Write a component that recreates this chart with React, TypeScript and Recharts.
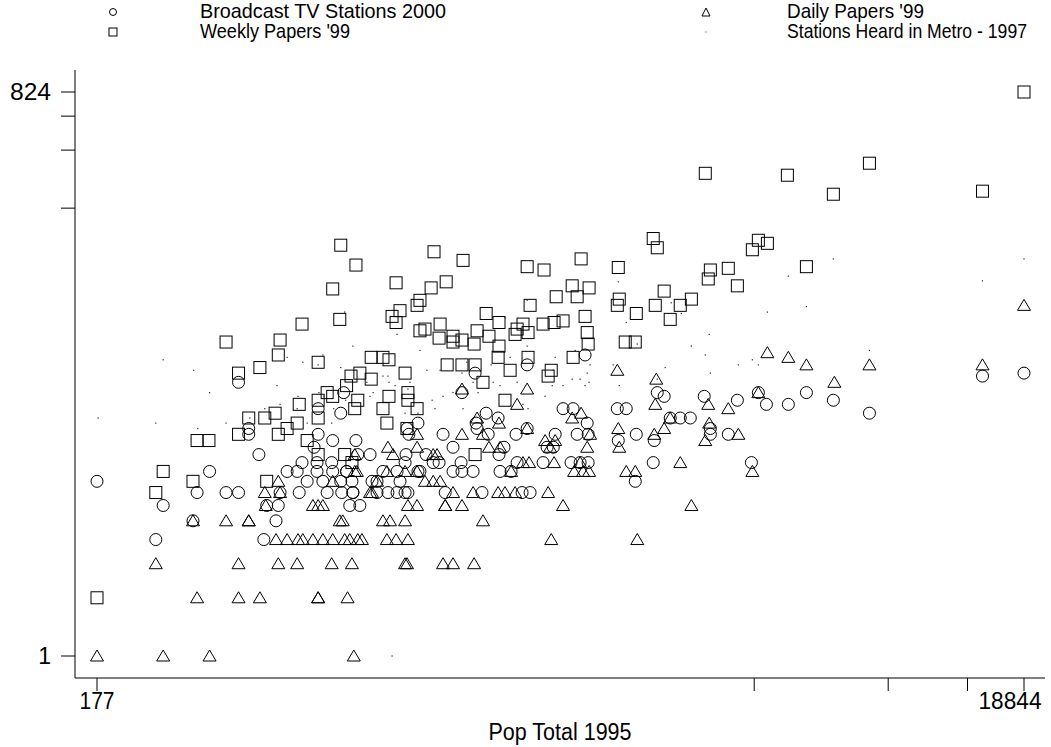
import { ScatterChart, Scatter, XAxis, YAxis } from "recharts";

// [pop total 1995, count]
const tvStations: [number, number][] = [
  [238, 4], [410, 4],
  [287, 5], [436, 5],
  [247, 6], [416, 6], [441, 6], [632, 6], [665, 6],
  [293, 7], [339, 7], [361, 7], [445, 7], [490, 7], [564, 7], [607, 7], [642, 7], [642, 7], [725, 7], [766, 7], [802, 7], [835, 7], [847, 7], [1022, 7], [1230, 7], [1505, 7], [1567, 7],
  [177, 8], [510, 8], [552, 8], [604, 8], [639, 8], [707, 8], [725, 8], [814, 8], [2661, 8],
  [312, 9], [461, 9], [485, 9], [536, 9], [580, 9], [622, 9], [622, 9], [747, 9], [802, 9], [891, 9], [900, 9], [1063, 9], [1112, 9], [1176, 9], [1347, 9], [1424, 9],
  [497, 10], [536, 10], [577, 10], [835, 10], [962, 10], [991, 10], [1107, 10], [1468, 10], [1673, 10], [1926, 10], [2016, 10], [2099, 10], [2913, 10], [4776, 10],
  [400, 11], [658, 11], [700, 11], [839, 11], [928, 11], [1340, 11],
  [528, 12], [1063, 12], [1374, 12], [1707, 12], [1761, 12],
  [580, 13], [652, 13], [2443, 13], [2928, 13],
  [380, 14], [539, 14], [851, 14], [1011, 14], [1269, 14], [1460, 14], [1778, 14], [1986, 14], [2099, 14], [2675, 14], [3884, 14], [4251, 14],
  [380, 15], [843, 15], [1200, 15], [1544, 15], [3884, 15],
  [891, 16], [1194, 16], [2089, 16],
  [1334, 17], [3173, 17], [3338, 17], [3511, 17],
  [604, 18], [1256, 18], [8653, 18],
  [539, 19], [1850, 19], [1946, 19], [2431, 19], [2543, 19],
  [5151, 20], [5752, 20],
  [4450, 21], [7216, 21],
  [3078, 22], [3766, 22],
  [613, 23], [1112, 23], [2973, 23], [4946, 23], [6300, 23],
  [361, 26], [15290, 28], [1188, 29], [18844, 29], [1544, 32], [2067, 36],
];

const dailyPapers: [number, number][] = [
  [177, 1], [247, 1], [312, 1], [645, 1],
  [293, 2], [361, 2], [402, 2], [539, 2], [539, 2], [625, 2],
  [238, 3], [361, 3], [441, 3], [485, 3], [577, 3], [639, 3], [835, 3], [843, 3], [1011, 3], [1063, 3], [1182, 3],
  [436, 4], [461, 4], [487, 4], [499, 4], [525, 4], [552, 4], [580, 4], [616, 4], [632, 4], [658, 4], [672, 4], [762, 4], [798, 4], [847, 4], [1743, 4], [2688, 4],
  [287, 5], [339, 5], [380, 5], [380, 5], [601, 5], [610, 5], [747, 5], [774, 5], [835, 5], [1236, 5],
  [414, 6], [525, 6], [539, 6], [552, 6], [847, 6], [887, 6], [1022, 6], [1022, 6], [1112, 6], [1850, 6], [3530, 6],
  [412, 7], [445, 7], [700, 7], [707, 7], [1063, 7], [1176, 7], [1334, 7], [1381, 7], [1453, 7], [1716, 7],
  [441, 8], [580, 8], [725, 8], [923, 8], [962, 8], [996, 8],
  [648, 9], [655, 9], [762, 9], [835, 9], [887, 9], [1424, 9], [1956, 9], [2046, 9], [2109, 9], [2543, 9], [2661, 9], [4799, 9],
  [1512, 10], [1559, 10], [1768, 10], [2016, 10], [3338, 10],
  [648, 11], [786, 11], [962, 11], [981, 11],
  [766, 12], [887, 12], [1274, 12], [1347, 12], [1733, 12], [2089, 12], [2455, 12],
  [1690, 13], [1778, 13], [3786, 13],
  [887, 14], [1112, 14], [1236, 14], [2120, 14], [2928, 14], [4472, 14],
  [1544, 15], [2443, 15], [3078, 15],
  [1340, 16], [3862, 16],
  [1200, 17], [1937, 17], [3173, 17],
  [2026, 18], [4251, 19],
  [1468, 20], [2943, 20], [3843, 20],
  [4946, 23], [1112, 24], [1544, 24], [7252, 26], [2958, 27], [2431, 30],
  [6300, 32], [8653, 32], [15290, 32], [5752, 35], [5176, 37], [18844, 65],
];

const weeklyPapers: [number, number][] = [
  [177, 2], [238, 7], [247, 9], [287, 8], [293, 13], [311, 13], [339, 42], [361, 29], [361, 14], [380, 17],
  [402, 31], [412, 17], [416, 8], [434, 18], [441, 36], [441, 14], [445, 43], [461, 15], [485, 16], [490, 20],
  [497, 52], [510, 13], [539, 33], [539, 21], [539, 17], [539, 11], [564, 23], [580, 79], [580, 22], [601, 55],
  [604, 133], [616, 11], [622, 25], [636, 28], [639, 10], [648, 19], [652, 105], [658, 21], [665, 29], [704, 35],
  [704, 27], [747, 35], [747, 19], [762, 16], [770, 34], [770, 22], [782, 57], [798, 85], [798, 53], [814, 61],
  [835, 29], [843, 15], [847, 23], [847, 21], [887, 65], [887, 19], [900, 69], [900, 48], [923, 49], [952, 80],
  [966, 123], [991, 44], [996, 52], [1027, 86], [1032, 32], [1063, 45], [1063, 42], [1112, 43], [1112, 32], [1118, 111],
  [1182, 41], [1188, 32], [1188, 11], [1200, 48], [1236, 26], [1256, 59], [1274, 45], [1334, 35], [1340, 53], [1340, 40],
  [1381, 21], [1417, 30], [1453, 46], [1468, 49], [1512, 52], [1544, 103], [1551, 47], [1551, 35], [1567, 65], [1673, 52],
  [1681, 99], [1716, 28], [1743, 30], [1768, 53], [1787, 72], [1850, 54], [1937, 82], [1946, 35], [1986, 72], [2026, 113],
  [2067, 57], [2089, 47], [2099, 41], [2109, 80], [2431, 65], [2443, 102], [2455, 70], [2530, 42], [2661, 42], [2675, 59],
  [2913, 144], [2943, 65], [2973, 129], [3078, 77], [3173, 55], [3338, 65], [3530, 70], [3786, 313], [3843, 89], [3884, 99],
  [4251, 101], [4450, 82], [4799, 126], [4946, 141], [5176, 136], [5724, 306], [6300, 103], [7216, 244], [8653, 353], [15290, 253],
  [18844, 824],
];

const stationsHeard: [number, number][] = [
  [178, 17], [238, 16], [247, 34], [288, 30], [294, 15], [312, 23], [339, 16], [382, 17], [412, 19], [438, 25],
  [445, 20], [461, 35], [485, 19], [487, 22], [499, 33], [510, 16], [539, 32], [541, 23], [552, 36], [555, 22],
  [577, 16], [583, 19], [604, 31], [616, 60], [619, 21], [642, 40], [689, 26], [700, 22], [711, 23], [747, 28],
  [766, 28], [770, 26], [794, 25], [802, 46], [835, 18], [847, 24], [856, 26], [891, 18], [900, 38], [932, 30],
  [957, 21], [971, 19], [996, 30], [1011, 22], [1063, 23], [1112, 29], [1118, 19], [1140, 33], [1176, 26], [1206, 23],
  [1288, 32], [1301, 26], [1347, 25], [1381, 56], [1417, 35], [1468, 26], [1512, 20], [1544, 69], [1544, 40], [1551, 19],
  [1690, 22], [1752, 25], [1761, 30], [1778, 35], [1850, 25], [1937, 27], [1966, 38], [2016, 27], [2067, 25], [2089, 29],
  [2109, 26], [2120, 32], [2381, 32], [2443, 86], [2455, 25], [2543, 53], [2688, 41], [2973, 27], [3094, 31], [3189, 67],
  [3355, 59], [3530, 40], [3786, 36], [3862, 46], [3884, 29], [4472, 32], [4799, 34], [4946, 32], [5176, 60], [5752, 92],
  [6300, 64], [7216, 113], [8653, 38], [15290, 87], [18844, 113], [782, 1],
];

const xTicks = [177, 4843.75, 9510.5, 14177.25, 18844];
const xTickLabels = ["177", "", "", "", "18844"];
const yTicks = [1, 206.75, 412.5, 618.25, 824];
const yTickLabels = ["1", "", "", "", "824"];

const seriesNames = ["Broadcast TV Stations 2000", "Daily Papers '99", "Weekly Papers '99", "Stations Heard in Metro - 1997"];

const toPoints = (rows: [number, number][]) => rows.map(([x, y]) => ({ x, y }));

const FONT = '"Liberation Sans", Arial, sans-serif';

// the reference font is a narrow helvetica, so widths are squeezed to fit
const narrow = (w: number) => ({ textLength: w, lengthAdjust: "spacingAndGlyphs" as const });

const CircleMark = (p: any) => <circle cx={p.cx} cy={p.cy} r={6} fill="none" stroke="#000" strokeWidth={1} />;
const SquareMark = (p: any) => (
  <rect x={p.cx - 6} y={p.cy - 6} width={12} height={12} fill="none" stroke="#000" strokeWidth={1} />
);
const TriMark = (p: any) => (
  <path
    d={`M${p.cx},${p.cy - 6} L${p.cx + 6.5},${p.cy + 5} L${p.cx - 6.5},${p.cy + 5} Z`}
    fill="none"
    stroke="#000"
    strokeWidth={1}
  />
);
const DotMark = (p: any) => <rect x={p.cx - 0.6} y={p.cy - 0.6} width={1.2} height={1.2} fill="#222" />;

const XTick = (props: any) => {
  const { x, y, index } = props;
  const label = xTickLabels[index];
  if (!label) return null;
  const last = index === xTicks.length - 1;
  return (
    <text
      x={last ? x - 14 : x}
      y={y}
      dy="0.71em"
      textAnchor="middle"
      fontSize={23}
      fontFamily={FONT}
      fill="#000"
      {...narrow(last ? 63 : 35)}
    >
      {label}
    </text>
  );
};

const YTick = (props: any) => {
  const { x, y, index } = props;
  const label = yTickLabels[index];
  if (!label) return null;
  const extra = label.length > 1 ? narrow(41) : {};
  return (
    <text x={x} y={y} dy="0.355em" textAnchor="end" fontSize={23} fontFamily={FONT} fill="#000" {...extra}>
      {label}
    </text>
  );
};

function Legend() {
  const textStyle = { fontSize: 21, fontFamily: FONT, fill: "#000" };
  return (
    <svg width={1051} height={50} style={{ position: "absolute", left: 0, top: 0 }}>
      <circle cx={113} cy={12} r={3.5} fill="none" stroke="#000" />
      <text x={200} y={18} {...textStyle} {...narrow(246)}>{seriesNames[0]}</text>
      <rect x={109} y={28} width={8} height={8} fill="none" stroke="#000" />
      <text x={200} y={38} {...textStyle} {...narrow(150)}>{seriesNames[2]}</text>
      <path d="M706,8 L710,16 L702,16 Z" fill="none" stroke="#000" />
      <text x={787} y={18} {...textStyle} {...narrow(137)}>{seriesNames[1]}</text>
      <rect x={705.5} y={31.5} width={1} height={1} fill="#333" />
      <text x={787} y={38} {...textStyle} {...narrow(240)}>{seriesNames[3]}</text>
    </svg>
  );
}

export default function App() {
  return (
    <div style={{ position: "absolute", left: 0, top: 0, width: 1051, height: 747, background: "#fff" }}>
      <ScatterChart width={1051} height={747} margin={{ top: 70, right: 6, bottom: 0, left: 0 }}>
        <XAxis
          type="number"
          dataKey="x"
          scale="log"
          domain={[177, 18844]}
          ticks={xTicks}
          interval={0}
          padding={{ left: 22, right: 21 }}
          height={69}
          tickSize={13}
          tickMargin={2}
          tick={<XTick />}
          axisLine={{ stroke: "#000" }}
          tickLine={{ stroke: "#000" }}
          label={{
            value: "Pop Total 1995",
            position: "insideBottom",
            offset: 7,
            fill: "#000",
            fontSize: 23,
            fontFamily: FONT,
            textLength: 143,
            lengthAdjust: "spacingAndGlyphs",
          }}
        />
        <YAxis
          type="number"
          dataKey="y"
          scale="log"
          domain={[1, 824]}
          ticks={yTicks}
          interval={0}
          padding={{ top: 22, bottom: 22 }}
          width={75}
          tickSize={14}
          tickMargin={10}
          tick={<YTick />}
          axisLine={{ stroke: "#000" }}
          tickLine={{ stroke: "#000" }}
        />
        <Scatter name={seriesNames[0]} data={toPoints(tvStations)} shape={CircleMark} isAnimationActive={false} />
        <Scatter name={seriesNames[1]} data={toPoints(dailyPapers)} shape={TriMark} isAnimationActive={false} />
        <Scatter name={seriesNames[2]} data={toPoints(weeklyPapers)} shape={SquareMark} isAnimationActive={false} />
        <Scatter name={seriesNames[3]} data={toPoints(stationsHeard)} shape={DotMark} isAnimationActive={false} />
      </ScatterChart>
      <Legend />
    </div>
  );
}
